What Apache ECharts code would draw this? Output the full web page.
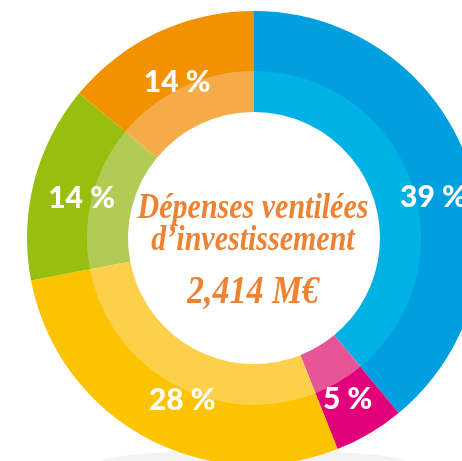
<!DOCTYPE html>
<html>
<head>
<meta charset="utf-8">
<script src="https://cdn.jsdelivr.net/npm/echarts@6/dist/echarts.min.js"></script>
<style>
  html, body { margin: 0; padding: 0; background: #fff; }
  #donut { width: 462px; height: 461px; }
</style>
</head>
<body>
<div id="donut"></div>
<script>
// répartition des dépenses (%), dans le sens horaire depuis midi
const categories = ['Bleu', 'Magenta', 'Jaune', 'Vert', 'Orange']
const shares = [39, 5, 28, 14, 14]
const centerLines = ['Dépenses ventilées', 'd\u2019investissement', '2,414 M€']

const outerColors = ['#009FE0', '#E2007A', '#FCC300', '#98BF0E', '#F39200']
const innerColors = ['#00B1E6', '#E75597', '#FDD04B', '#B1CB55', '#F5AB48']
// petits décalages des étiquettes (comme sur la maquette)
const labelOffsets = [[12, 20], [3, 8], [14, 6], [0, 5], [-1, 5]]

const cx = 254
const cy = 238

const myChart = echarts.init(document.getElementById('donut'))

const ring = (radius, colors) => ({
  type: 'pie',
  center: [cx, cy],
  radius,
  startAngle: 90,
  clockwise: true,
  silent: true,
  itemStyle: { borderWidth: 0, borderColor: 'transparent' },
  label: { show: false },
  labelLine: { show: false },
  data: categories.map((name, i) => ({
    name,
    value: shares[i],
    itemStyle: { color: colors[i] }
  }))
})

const labelRing = {
  type: 'pie',
  center: [cx, cy],
  radius: [150, 200],
  startAngle: 90,
  clockwise: true,
  silent: true,
  z: 5,
  itemStyle: { color: 'rgba(0,0,0,0)', borderWidth: 0, borderColor: 'transparent' },
  label: {
    show: true,
    position: 'inside',
    color: '#fff',
    fontFamily: 'Lato',
    fontWeight: 900,
    fontSize: 30,
    formatter: p => p.value + ' %'
  },
  labelLine: { show: false },
  data: categories.map((name, i) => ({
    name,
    value: shares[i],
    label: { offset: labelOffsets[i] }
  }))
}

const centerFont = 'italic bold 30px "Liberation Serif"'
const centerText = (text, y, font) => ({
  type: 'text',
  z: 100,
  x: 253,
  y,
  scaleY: 1.2,
  style: { text, font, fill: '#EE8233', align: 'center', verticalAlign: 'middle' }
})

const option = {
  animation: false,
  graphic: [
    {
      type: 'ellipse',
      z: -10,
      shape: { cx: 253, cy: 463, rx: 155, ry: 13 },
      style: { fill: '#F3F3F3' }
    },
    centerText(centerLines[0], 209, centerFont),
    centerText(centerLines[1], 241, centerFont),
    centerText(centerLines[2], 292, 'italic bold 34px "Liberation Serif"')
  ],
  series: [
    // l'anneau clair déborde un peu sous l'anneau foncé pour éviter le liseré blanc
    ring([126, 170], innerColors),
    ring([167, 227], outerColors),
    labelRing
  ]
}

myChart.setOption(option)
</script>
</body>
</html>
